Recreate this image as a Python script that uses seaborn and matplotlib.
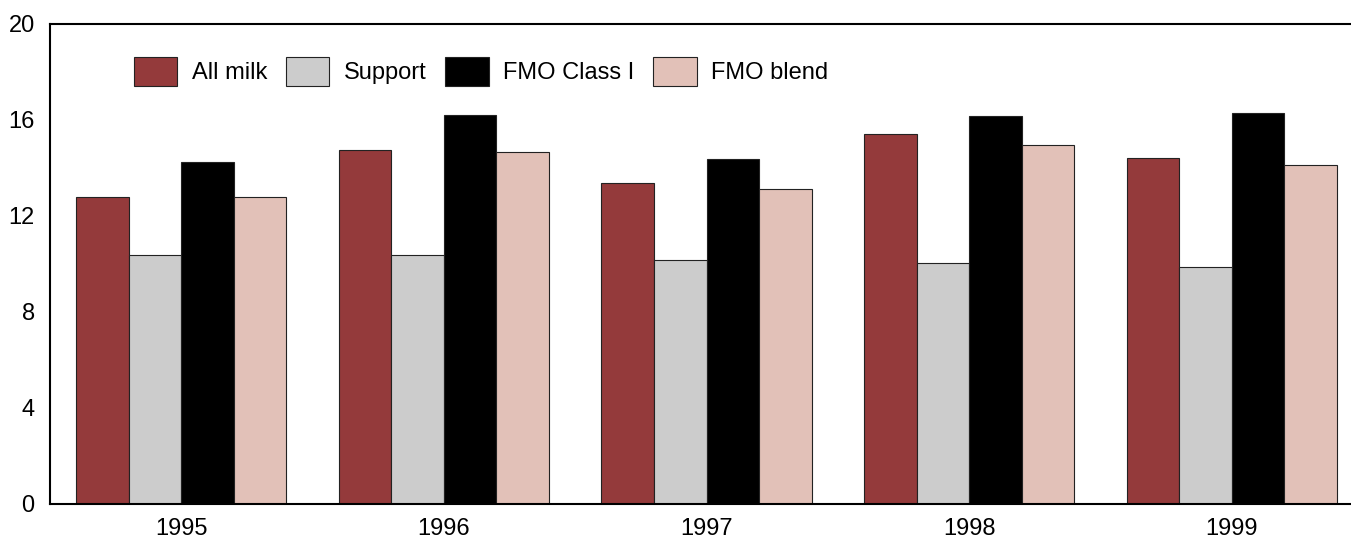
import pandas as pd
import seaborn as sns
import matplotlib.pyplot as plt

# Data
years = ["1995", "1996", "1997", "1998", "1999"]
series = ["All milk", "Support", "FMO Class I", "FMO blend"]
all_milk = [12.78, 14.75, 13.38, 15.42, 14.40]
support = [10.36, 10.36, 10.18, 10.05, 9.88]
fmo_class1 = [14.24, 16.22, 14.36, 16.18, 16.28]
fmo_blend = [12.78, 14.68, 13.11, 14.95, 14.11]
colors = ["#943A3B", "#CCCCCC", "#000000", "#E2C1B8"]

df = pd.DataFrame({
    "year": years * 4,
    "series": [s for s in series for _ in years],
    "value": all_milk + support + fmo_class1 + fmo_blend,
})

sns.set_style("white")
plt.rcParams["font.family"] = ["Liberation Sans", "DejaVu Sans"]
plt.rcParams["font.size"] = 17
plt.rcParams["text.color"] = "black"
plt.rcParams["xtick.color"] = "black"
plt.rcParams["ytick.color"] = "black"

fig = plt.figure(figsize=(13.51, 5.42), dpi=100)
ax = fig.add_axes([50 / 1351, 1 - 504 / 542, 1301 / 1351, 480 / 542])

sns.barplot(data=df, x="year", y="value", hue="series", palette=colors,
            order=years, hue_order=series, width=0.8, saturation=1,
            edgecolor="#222222", linewidth=0.8, ax=ax)

ax.set_xlim(-0.5, 4.454)
ax.set_ylim(0, 20)
ax.set_yticks([0, 4, 8, 12, 16, 20])
ax.set_xlabel("")
ax.set_ylabel("")
ax.tick_params(axis="y", direction="in", length=9, color="#888888",
               labelcolor="black", labelsize=17, pad=11)
ax.tick_params(axis="x", length=0, labelcolor="black", labelsize=17, pad=10)
for side in ["left", "top", "bottom"]:
    ax.spines[side].set_color("black")
    ax.spines[side].set_linewidth(1.5)
ax.spines["right"].set_visible(False)

ax.legend(loc="upper left", bbox_to_anchor=(0.048, 0.976), ncol=4, frameon=False,
          handlelength=1.85, handleheight=1.55, handletextpad=0.6,
          columnspacing=0.8, fontsize=17)

fig.savefig("out.png", dpi=100)
